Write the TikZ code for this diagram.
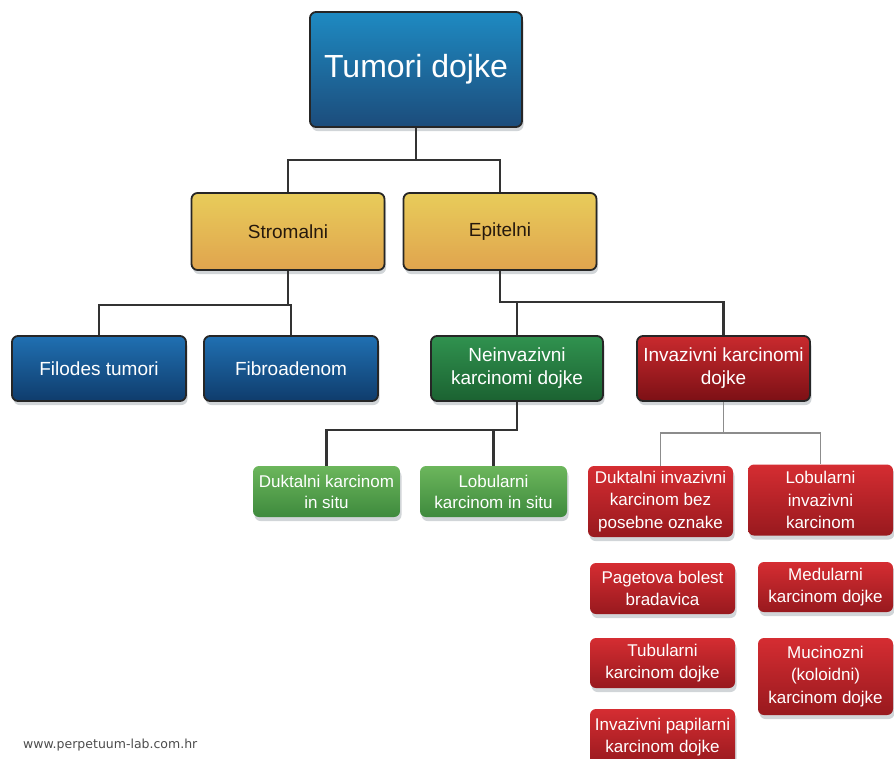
\documentclass[tikz,border=0pt]{standalone}
\usepackage{fontspec}
\setmainfont{Liberation Sans}
\newfontfamily\sitefont{DejaVu Sans}
\usepackage{tikz}
\usetikzlibrary{shadows}

\definecolor{rootTop}{HTML}{1E8AC2}
\definecolor{rootBot}{HTML}{1C4C7B}
\definecolor{blueTop}{HTML}{2070B2}
\definecolor{blueBot}{HTML}{0F3C6C}
\definecolor{goldTop}{HTML}{E8CC5A}
\definecolor{goldBot}{HTML}{E0A44E}
\definecolor{greenTop}{HTML}{30924F}
\definecolor{greenBot}{HTML}{1B6231}
\definecolor{lgreenTop}{HTML}{6CB65C}
\definecolor{lgreenBot}{HTML}{3E8A3D}
\definecolor{redTop}{HTML}{C92A2E}
\definecolor{redBot}{HTML}{7C1015}
\definecolor{lredTop}{HTML}{D52D32}
\definecolor{lredBot}{HTML}{98191E}

\tikzstyle{box}       = [rectangle, rounded corners=6pt, align=center, inner sep=2pt, drop shadow={shadow xshift=1.5pt, shadow yshift=-4pt, fill=black!70!cyan, opacity=0.25}]
\tikzstyle{framed}    = [box, draw=black!85, line width=1.8pt]
\tikzstyle{rootbox}   = [framed, minimum width=212pt, minimum height=115pt, top color=rootTop, bottom color=rootBot, text=white, font=\fontsize{32}{36}\selectfont]
\tikzstyle{goldbox}   = [framed, minimum width=193pt, minimum height=77pt, top color=goldTop, bottom color=goldBot, text=black!80!brown, font=\fontsize{19}{23}\selectfont]
\tikzstyle{bluebox}   = [framed, minimum width=174pt, minimum height=65pt, top color=blueTop, bottom color=blueBot, text=white, font=\fontsize{19}{23}\selectfont]
\tikzstyle{greenbox}  = [framed, minimum width=172pt, minimum height=65pt, top color=greenTop, bottom color=greenBot, text=white, font=\fontsize{19}{23}\selectfont]
\tikzstyle{redbox}    = [framed, minimum width=173pt, minimum height=65pt, top color=redTop, bottom color=redBot, text=white, font=\fontsize{19}{23}\selectfont]
\tikzstyle{leafgreen} = [box, minimum width=147pt, minimum height=51pt, top color=lgreenTop, bottom color=lgreenBot, text=white, font=\fontsize{17}{21}\selectfont]
\tikzstyle{leafred}   = [box, minimum width=145pt, top color=lredTop, bottom color=lredBot, text=white, font=\fontsize{17}{22.5}\selectfont]
\tikzstyle{link}      = [line width=2.2pt, draw=black!80]
\tikzstyle{greylink}  = [line width=1.6pt, draw=black!45]

\begin{document}
\begin{tikzpicture}[x=1pt,y=-1pt]
	\useasboundingbox (0,0) rectangle (894,758);

	% levels 1 and 2
	\node[rootbox] (tumori) at (416,69.5) {Tumori dojke};
	\node[goldbox] (strom) at (288,231.5) {Stromalni};
	\node[goldbox] (epit) at (500,231.5) {Epitelni};

	\node[bluebox] (filodes) at (99,368.5) {Filodes tumori};
	\node[bluebox] (fibro) at (291,368.5) {Fibroadenom};
	\node[greenbox] (nein) at (517,368.5) {Neinvazivni\\karcinomi dojke};
	\node[redbox] (inv) at (723.5,368.5) {Invazivni karcinomi\\dojke};

	% leaves
	\node[leafgreen] (dcis) at (326.5,491.5) {Duktalni karcinom\\in situ};
	\node[leafgreen] (lcis) at (493.5,491.5) {Lobularni\\karcinom in situ};

	\node[leafred, minimum height=71pt] (idc) at (660.5,501.5) {Duktalni invazivni\\karcinom bez\\posebne oznake};
	\node[leafred, minimum height=71pt] (ilc) at (820.5,500) {Lobularni\\invazivni\\karcinom};
	\node[leafred, minimum height=51pt] (paget) at (662.5,588.5) {Pagetova bolest\\bradavica};
	\node[leafred, minimum height=50pt] (tubul) at (662.5,663) {Tubularni\\karcinom dojke};
	\node[leafred, minimum height=56pt] (papil) at (662.5,737) {Invazivni papilarni\\karcinom dojke};
	\node[leafred, minimum width=135pt, minimum height=50pt] (medul) at (825.5,587) {Medularni\\karcinom dojke};
	\node[leafred, minimum width=135pt, minimum height=77pt] (mucin) at (825.5,676.5) {Mucinozni\\(koloidni)\\karcinom dojke};

	\node[font=\sitefont\fontsize{12.5}{14}\selectfont, text=black!70, anchor=west, inner sep=0pt] (site) at (23,745) {www.perpetuum-lab.com.hr};

	% connectors
	\coordinate (j1) at (416,160);
	\coordinate (j2) at (288,305);
	\coordinate (j3) at (502,302);
	\coordinate (j4) at (517,430);
	\coordinate (j5) at (723.5,433);

	\draw[link] (tumori.south) -- (j1);
	\draw[link] (strom.north) |- (j1) -| (epit.north);
	\draw[link] (strom.south) -- (j2);
	\draw[link] (filodes.north) |- (j2) -| (fibro.north);
	\draw[link] (epit.south) |- (j3) -| (inv.north);
	\draw[link] (nein.north) -- (nein.north |- j3);
	\draw[link] (nein.south) -- (j4) -| (dcis.north);
	\draw[link] (lcis.north) -- (lcis.north |- j4);
	\draw[greylink] (inv.south) -- (j5);
	\draw[greylink] (idc.north) |- (j5) -| (ilc.north);
\end{tikzpicture}
\end{document}
